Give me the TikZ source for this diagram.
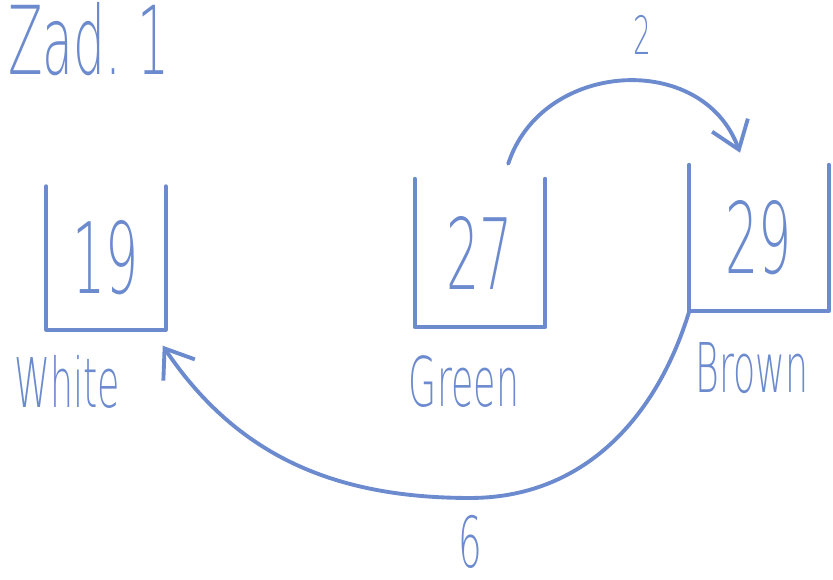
\documentclass[tikz,border=0pt]{standalone}
\usepackage{fontspec}
\setmainfont{DejaVu Sans ExtraLight}[FakeStretch=0.53]
\usepackage{xcolor}
\usepackage{tikz}
\usetikzlibrary{arrows.meta,calc}
\definecolor{ink}{RGB}{108,138,206}
\tikzset{
  cupbox/.style={rectangle, inner sep=0pt, text=ink,
                 font=\fontsize{28}{28}\selectfont},
  cupline/.style={draw=ink, line width=1.1pt, line join=round, line cap=round},
  namelbl/.style={text=ink, inner sep=1pt, font=\fontsize{19.5}{20}\selectfont},
  wlbl/.style={text=ink, inner sep=1pt},
  arrink/.style={-{Straight Barb[length=2.6mm,width=3.8mm]}, draw=ink,
                 line width=1.1pt, line cap=round},
}

\begin{document}
\begin{tikzpicture}[x=0.01cm, y=0.01cm]
  \useasboundingbox (0,0) rectangle (833,580);
  \node[wlbl, font=\fontsize{27}{27}\selectfont, anchor=base west] (title) at (4,505) {Zad.\,1};
  % boxes
  \node[cupbox, minimum width=11.8mm, minimum height=14.2mm] (white) at (106,322) {19};
  \node[cupbox, minimum width=12.9mm, minimum height=14.7mm] (green) at (480,327) {27};
  \node[cupbox, minimum width=13.8mm, minimum height=14.5mm] (brown) at (759,342) {29};
  \draw[cupline] (white.north west) |- (white.south east) -- (white.north east);
  \draw[cupline] (green.north west) |- (green.south east) -- (green.north east);
  \draw[cupline] (brown.north west) |- (brown.south east) -- (brown.north east);
  \node[namelbl] (whitelbl) at (67,198) {White};
  \node[namelbl] (greenlbl) at (464,198) {Green};
  \node[namelbl] (brownlbl) at (752,212) {Brown};
  % moves
  \coordinate (gout) at ($(green.north east)+(-37,15)$);
  \coordinate (bin) at ($(brown.north)+(-19,12)$);
  \coordinate (low) at (470,82);
  \coordinate (win) at ($(white.south east)+(-3,-16)$);
  \draw[arrink] (gout) to[out=72, in=110, looseness=1.2] (bin);
  \draw[arrink] (brown.south west) to[out=-107, in=0] (low) to[out=180, in=-56] (win);
  \node[wlbl, font=\fontsize{15}{15}\selectfont] (two) at (642,545) {2};
  \node[wlbl, font=\fontsize{20}{20}\selectfont] (six) at (470,38) {6};
\end{tikzpicture}
\end{document}
